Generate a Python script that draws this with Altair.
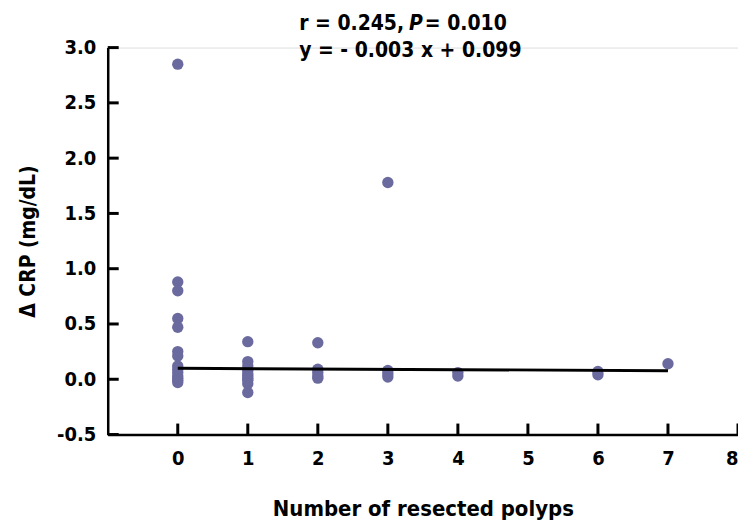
import altair as alt
import pandas as pd

FONT = "Liberation Sans Narrow, DejaVu Sans Condensed, Arial Narrow, Liberation Sans, sans-serif"

# data
x0 = [2.85, 0.88, 0.80, 0.55, 0.47, 0.25, 0.21, 0.12, 0.09, 0.06, 0.03, 0.01, -0.01, -0.03]
x1 = [0.34, 0.16, 0.12, 0.08, 0.05, 0.03, 0.01, -0.01, -0.04, -0.12]
x2 = [0.33, 0.09, 0.06, 0.03, 0.01]
x3 = [1.78, 0.08, 0.05, 0.02]
x4 = [0.06, 0.03]
x6 = [0.07, 0.04]
x7 = [0.14]
groups = {0: x0, 1: x1, 2: x2, 3: x3, 4: x4, 6: x6, 7: x7}

line_x = [0, 7]
line_y = [0.099, 0.078]

x_ticks = [0, 1, 2, 3, 4, 5, 6, 7, 8]
y_ticks = [-0.5, 0.0, 0.5, 1.0, 1.5, 2.0, 2.5, 3.0]

rows = [{"x": k, "y": v} for k, vs in groups.items() for v in vs]
pts = pd.DataFrame(rows)
ln = pd.DataFrame({"x": line_x, "y": line_y})
xt = pd.DataFrame({"tx": [float(v) for v in x_ticks]})
yt = pd.DataFrame({"ty": [float(v) for v in y_ticks]})

xs = alt.Scale(domain=[-1, 8], nice=False, zero=False)
ys = alt.Scale(domain=[-0.5, 3.0], nice=False, zero=False)

xax = alt.Axis(values=x_ticks, format="d", title="Number of resected polyps", ticks=False, grid=False,
               domainColor="black", domainWidth=2.5, labelFont=FONT, labelFontSize=20,
               labelFontWeight="bold", labelColor="black", labelPadding=14,
               titleFont=FONT, titleFontSize=22, titleFontWeight="bold", titleColor="black",
               titlePadding=30)
yax = alt.Axis(values=y_ticks, format=".1f",
               labelExpr="replace(format(datum.value, '.1f'), '\u2212', '-')",
               title="\u0394 CRP (mg/dL)", ticks=False, grid=False,
               domainColor="black", domainWidth=2.5, labelFont=FONT, labelFontSize=20,
               labelFontWeight="bold", labelColor="black", labelPadding=12,
               titleFont=FONT, titleFontSize=21, titleFontWeight="bold", titleColor="black",
               titlePadding=18)

points = alt.Chart(pts).mark_circle(size=130, color="#6a6a9f", opacity=1).encode(
    x=alt.X("x:Q", scale=xs, axis=xax),
    y=alt.Y("y:Q", scale=ys, axis=yax),
)
fit = alt.Chart(ln).mark_line(color="black", strokeWidth=3).encode(
    x=alt.X("x:Q", scale=xs), y=alt.Y("y:Q", scale=ys))
xtick = alt.Chart(xt).mark_rule(color="black", strokeWidth=3).encode(
    x=alt.X("tx:Q", scale=xs), y=alt.value(377), y2=alt.value(388))
ytick = alt.Chart(yt).mark_rule(color="black", strokeWidth=3).encode(
    y=alt.Y("ty:Q", scale=ys), x=alt.value(0), x2=alt.value(11))

def label(txt, px, py, style="normal"):
    return alt.Chart(pd.DataFrame({"t": [txt]})).mark_text(
        align="left", baseline="middle", font=FONT, fontSize=21, fontWeight="bold",
        fontStyle=style, color="black").encode(
        x=alt.value(px), y=alt.value(py), text="t:N")

t1 = label("r = 0.245,", 192, -24)
t2 = label("P", 302, -24, "italic")
t3 = label("= 0.010", 318, -24)
t4 = label("y = - 0.003 x + 0.099", 192, 3)

chart = alt.layer(points, fit, t1, t2, t3, t4, xtick, ytick).properties(
    width=632, height=388,
    autosize=alt.AutoSizeParams(type="none"),
    padding={"left": 100, "top": 39, "right": 0, "bottom": 86},
).configure_view(stroke=None).configure(background="white")

chart.save("out.html", embed_options={"renderer": "svg", "actions": False})
